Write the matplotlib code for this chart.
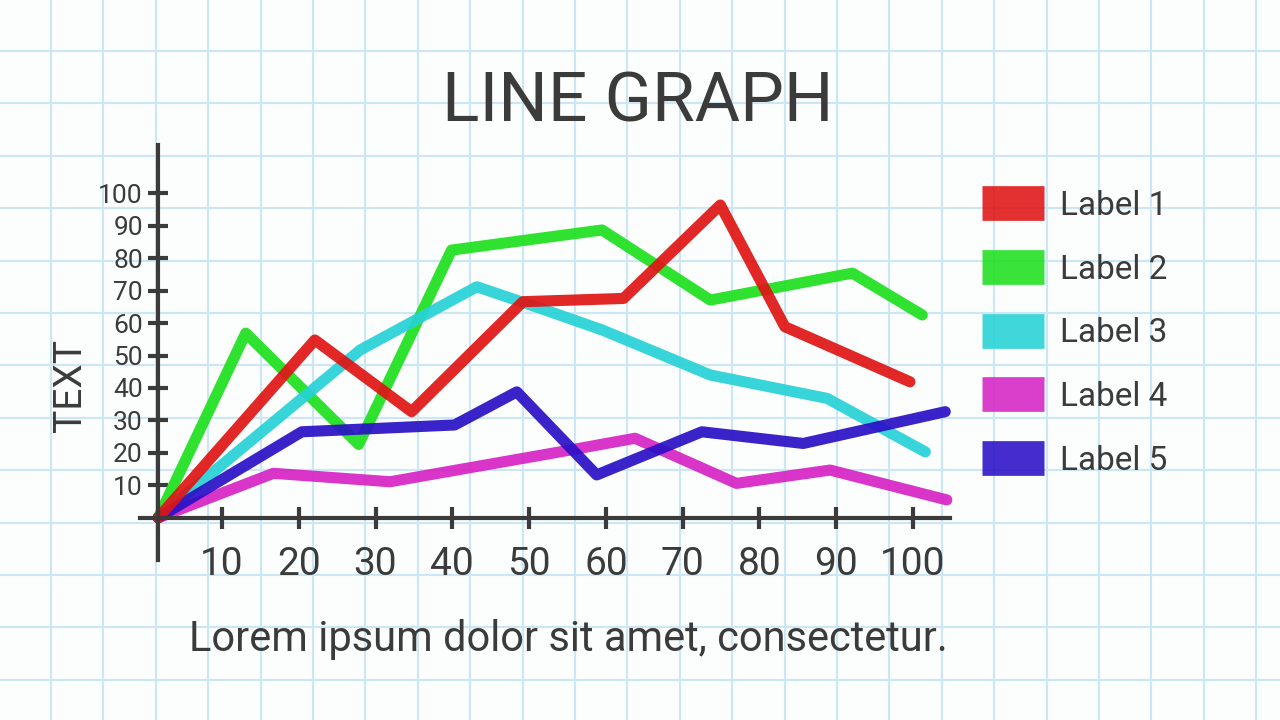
import numpy as np
import matplotlib
matplotlib.use('Agg')
import matplotlib.pyplot as plt
from matplotlib.lines import Line2D

plt.rcParams['font.family'] = ['Roboto', 'DejaVu Sans']

# series (x, y)
labels = ['Label 1', 'Label 2', 'Label 3', 'Label 4', 'Label 5']
colors = ['#e01414', '#1ee01e', '#26d2d6', '#d624c4', '#2a10c6']

red_x = [1.7, 22.1, 34.7, 49.2, 62.3, 74.9, 83.3, 99.6]
red_y = [0, 54.8, 32.7, 66.6, 67.6, 96.4, 58.9, 41.9]
green_x = [1.7, 13.1, 27.8, 39.9, 59.5, 73.6, 92.1, 101.2]
green_y = [0, 56.9, 22.6, 82.5, 88.7, 67.1, 75.4, 62.5]
cyan_x = [1.7, 28.0, 43.2, 51.4, 59.5, 73.6, 88.8, 101.6]
cyan_y = [0, 51.7, 71.2, 64.6, 57.9, 44.0, 36.8, 20.3]
magenta_x = [1.7, 16.7, 31.9, 54.0, 63.8, 77.0, 89.2, 104.4]
magenta_y = [0, 13.7, 11.1, 20.3, 24.5, 10.6, 14.7, 5.5]
blue_x = [1.7, 20.4, 40.3, 48.4, 58.8, 72.5, 85.7, 104.2]
blue_y = [0, 26.5, 28.6, 38.8, 13.2, 26.5, 22.9, 32.7]

xticks = [10, 20, 30, 40, 50, 60, 70, 80, 90, 100]
yticks = [10, 20, 30, 40, 50, 60, 70, 80, 90, 100]

ink = '#3b3b3b'
fig = plt.figure(figsize=(12.8, 7.2), dpi=100)
fig.patch.set_facecolor('#fcfdfd')

# graph paper
bg = fig.add_axes([0, 0, 1, 1])
bg.set_xlim(0, 1280)
bg.set_ylim(720, 0)
bg.axis('off')
step = 52.4
for g in np.arange(-1.5, 1290, step):
    bg.axvline(g, color='#cbe6f4', lw=1.5, zorder=0)
for g in np.arange(-1.5, 730, step):
    bg.axhline(g, color='#cbe6f4', lw=1.5, zorder=0)

ax = fig.add_axes([0.1014, 0.2133, 0.6479, 0.5993])
ax.set_facecolor('none')
ax.set_xlim(-2, 106)
ax.set_ylim(-15, 118)

series = [(green_x, green_y, 1), (cyan_x, cyan_y, 2), (magenta_x, magenta_y, 3),
          (blue_x, blue_y, 4), (red_x, red_y, 0)]
for xs, ys, i in series:
    ax.plot(xs, ys, color=colors[i], lw=8, alpha=0.92,
            solid_joinstyle='round', solid_capstyle='round', zorder=3)

for s in ['top', 'right']:
    ax.spines[s].set_visible(False)
ax.spines['left'].set_position(('data', 1.7))
ax.spines['bottom'].set_position(('data', 0))
ax.spines['left'].set_bounds(-13, 115)
ax.spines['bottom'].set_bounds(-0.7, 104.8)
for s in ['left', 'bottom']:
    ax.spines[s].set_color(ink)
    ax.spines[s].set_linewidth(3)
    ax.spines[s].set_zorder(4)

ax.set_xticks(xticks)
ax.set_yticks(yticks)
ax.tick_params(axis='x', direction='inout', length=16, width=3, color=ink,
               labelsize=28, labelcolor=ink, pad=12)
ax.tick_params(axis='y', direction='inout', length=14, width=3, color=ink,
               labelsize=19, labelcolor=ink, pad=4)

fig.text(638 / 1280, 1 - 103 / 720, 'LINE GRAPH', ha='center', va='center',
         fontsize=50, color=ink)
fig.text(70 / 1280, 1 - 385 / 720, 'TEXT', rotation=90, ha='center', va='center',
         fontsize=28, color=ink)
fig.text(568 / 1280, 1 - 640 / 720, 'Lorem ipsum dolor sit amet, consectetur.',
         ha='center', va='center', fontsize=30, color=ink)

handles = [Line2D([0], [0], color=c, lw=25, alpha=0.88, solid_capstyle='butt')
           for c in colors]
ax.legend(handles, labels, loc='upper left', bbox_to_anchor=(952 / 1280, 1 - 160 / 720),
          bbox_transform=fig.transFigure, frameon=False, fontsize=24,
          labelcolor=ink, handlelength=1.85, handletextpad=0.5, labelspacing=0.95)

fig.savefig('out.png', dpi=100, facecolor=fig.get_facecolor())
